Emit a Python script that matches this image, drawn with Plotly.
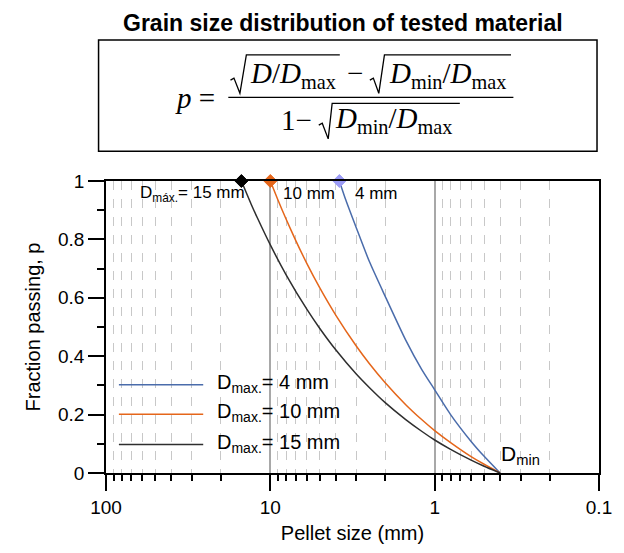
import plotly.graph_objects as go

# ---- data: pellet size D (mm) and fraction passing p for each maximum size ----
d_4 = [3.8, 3.5, 3.0, 2.5, 2.0, 1.5, 1.2, 1.0, 0.8, 0.6, 0.5, 0.4]
p_4 = [1.0, 0.94, 0.84, 0.725, 0.605, 0.455, 0.355, 0.285, 0.20, 0.108, 0.057, 0.0]

d_10 = [10, 9, 8, 7, 6, 5, 4, 3, 2.5, 2, 1.5, 1.2, 1.0, 0.8, 0.6, 0.5, 0.4]
p_10 = [1.0, 0.936, 0.868, 0.796, 0.718, 0.634, 0.541, 0.435, 0.375, 0.309,
        0.234, 0.183, 0.145, 0.104, 0.056, 0.030, 0.0]

d_15 = [15, 13, 12, 10, 8, 6, 5, 4, 3, 2.5, 2, 1.5, 1.2, 1.0, 0.8, 0.6, 0.5, 0.4]
p_15 = [1.0, 0.917, 0.874, 0.781, 0.678, 0.561, 0.495, 0.422, 0.339, 0.293,
        0.241, 0.183, 0.143, 0.113, 0.081, 0.044, 0.023, 0.0]

legend_labels = ["4 mm", "10 mm", "15 mm"]
x_tick_vals = [100, 10, 1, 0.1]
x_tick_text = ["100", "10", "1", "0.1"]
x_minor_vals = [m * s for s in (10, 1, 0.1) for m in range(2, 10)]
y_tick_vals = [0, 0.2, 0.4, 0.6, 0.8, 1.0]
y_tick_text = ["0", "0.2", "0.4", "0.6", "0.8", "1"]
y_minor_vals = [0.1, 0.3, 0.5, 0.7, 0.9]

BLUE = "#4A6CAB"
ORANGE = "#E5661A"
DARK = "#2E2E2E"
DIAMONDS = ["#9C9CF5", ORANGE, "#000000"]

SANS = "Liberation Sans, Arial, Helvetica, sans-serif"
SERIF = "Liberation Serif, Times New Roman, serif"

# plot-area frame in page pixels, used to place header/legend items
W, H = 624, 553
L, R, T, B = 106, 603, 181, 479


def X(px):
    return (px - L) / (R - L)


def Y(py):
    return (B - py) / (B - T)


fig = go.Figure()

curves = [(d_4, p_4, BLUE), (d_10, p_10, ORANGE), (d_15, p_15, DARK)]
for d, p, c in curves:
    fig.add_trace(go.Scatter(x=d, y=p, mode="lines",
                             line=dict(color=c, width=1.5, shape="spline", smoothing=0.6),
                             showlegend=False, hoverinfo="skip"))

# D_max markers on the top edge
for (d, p, _), mc in zip(curves, DIAMONDS):
    fig.add_trace(go.Scatter(x=[d[0]], y=[p[0]], mode="markers", cliponaxis=False,
                             marker=dict(symbol="diamond", size=10, color=mc,
                                         line=dict(color=mc, width=1)),
                             showlegend=False, hoverinfo="skip"))

shapes = []
annotations = []

# legend drawn by hand (long line samples)
leg_y = [389, 419, 450]
for (d, p, c), lab, ly in zip(curves, legend_labels, leg_y):
    shapes.append(dict(type="line", xref="paper", yref="paper",
                       x0=X(119), x1=X(204), y0=Y(ly), y1=Y(ly),
                       line=dict(color=c, width=1.5)))
    annotations.append(dict(xref="paper", yref="paper", x=X(216), y=Y(ly - 1.5),
                            xanchor="left", yanchor="middle", showarrow=False,
                            text="D<sub>max.</sub>= " + lab,
                            font=dict(family=SANS, size=20, color="black")))

# labels along the top edge
top_y = 194
annotations.append(dict(xref="paper", yref="paper", x=X(138), y=Y(top_y), xanchor="left",
                        yanchor="middle", showarrow=False, text="D<sub>máx.</sub>= 15 mm",
                        font=dict(family=SANS, size=17, color="black")))
annotations.append(dict(xref="paper", yref="paper", x=X(282), y=Y(top_y), xanchor="left",
                        yanchor="middle", showarrow=False, text="10 mm",
                        font=dict(family=SANS, size=17, color="black")))
annotations.append(dict(xref="paper", yref="paper", x=X(355), y=Y(top_y), xanchor="left",
                        yanchor="middle", showarrow=False, text="4 mm",
                        font=dict(family=SANS, size=17, color="black")))
# D_min label
annotations.append(dict(xref="paper", yref="paper", x=X(502), y=Y(461), xanchor="left",
                        yanchor="middle", showarrow=False, text="D<sub>min</sub>",
                        font=dict(family=SANS, size=21, color="black")))

# title
annotations.append(dict(xref="paper", yref="paper", x=X(345), y=Y(19.5), xanchor="center",
                        yanchor="middle", showarrow=False,
                        text="<b>Grain size distribution of tested material</b>",
                        font=dict(family=SANS, size=23, color="black")))

# ---- equation box ----
shapes.append(dict(type="rect", xref="paper", yref="paper",
                   x0=X(98.5), x1=X(601), y0=Y(37), y1=Y(150.7),
                   line=dict(color="black", width=1.5)))
# fraction bar
shapes.append(dict(type="line", xref="paper", yref="paper",
                   x0=X(229.3), x1=X(516.7), y0=Y(95.7), y1=Y(95.7),
                   line=dict(color="black", width=1.3)))


def radical(pts):
    path = "M " + " L ".join(f"{X(a):.5f},{Y(b):.5f}" for a, b in pts)
    return dict(type="path", xref="paper", yref="paper", path=path,
                line=dict(color="black", width=1.3))


shapes.append(radical([(231.5, 78), (235, 76), (241, 91.5), (247.5, 52.3), (341.7, 52.3)]))
shapes.append(radical([(372, 78), (375.5, 76), (381, 91.5), (386.7, 52.3), (514.3, 52.3)]))
shapes.append(radical([(320.5, 124), (324, 122), (330, 138), (334, 101.7), (462.7, 101.7)]))


def eq_text(px, py, txt, anchor="left"):
    annotations.append(dict(xref="paper", yref="paper", x=X(px), y=Y(py), xanchor=anchor,
                            yanchor="middle", showarrow=False, text=txt,
                            font=dict(family=SERIF, size=29, color="black")))


eq_text(174, 96, "<i>p</i> =")
eq_text(249, 73, "<i>D</i>/<i>D</i><sub>max</sub>")
eq_text(356.7, 71, "−", anchor="center")
eq_text(389, 73, "<i>D</i><sub>min</sub>/<i>D</i><sub>max</sub>")
eq_text(280, 119, "1−")
eq_text(335, 119, "<i>D</i><sub>min</sub>/<i>D</i><sub>max</sub>")

fig.update_layout(
    width=W, height=H,
    margin=dict(l=L, r=W - R, t=T, b=H - B, pad=0),
    paper_bgcolor="white", plot_bgcolor="white",
    font=dict(family=SANS, size=19, color="black"),
    shapes=shapes, annotations=annotations,
    showlegend=False,
)

fig.update_xaxes(
    type="log", range=[2, -1], autorange=False,
    tickmode="array", tickvals=x_tick_vals, ticktext=x_tick_text,
    ticks="outside", ticklen=16, tickwidth=1.5, tickcolor="black",
    tickfont=dict(family=SANS, size=19),
    showline=True, linecolor="black", linewidth=1.5, mirror=True,
    showgrid=True, gridcolor="#A8A8A8", gridwidth=1.5, zeroline=False,
    minor=dict(tickvals=x_minor_vals, ticks="outside", ticklen=6, tickwidth=1.5,
               tickcolor="black", showgrid=True, gridcolor="#C8C8C8",
               griddash="dash", gridwidth=1),
    title=dict(text="Pellet size (mm)", font=dict(family=SANS, size=20), standoff=9),
)

fig.update_yaxes(
    range=[0, 1], autorange=False,
    tickmode="array", tickvals=y_tick_vals, ticktext=y_tick_text,
    ticks="outside", ticklen=16, tickwidth=1.5, tickcolor="black",
    tickfont=dict(family=SANS, size=19),
    showline=True, linecolor="black", linewidth=1.5, mirror=True,
    showgrid=False, zeroline=False,
    minor=dict(tickvals=y_minor_vals, ticks="outside", ticklen=7, tickwidth=1.5,
               tickcolor="black", showgrid=False),
    title=dict(text="Fraction passing, p", font=dict(family=SANS, size=20), standoff=12),
)

fig.write_html("out.html")
